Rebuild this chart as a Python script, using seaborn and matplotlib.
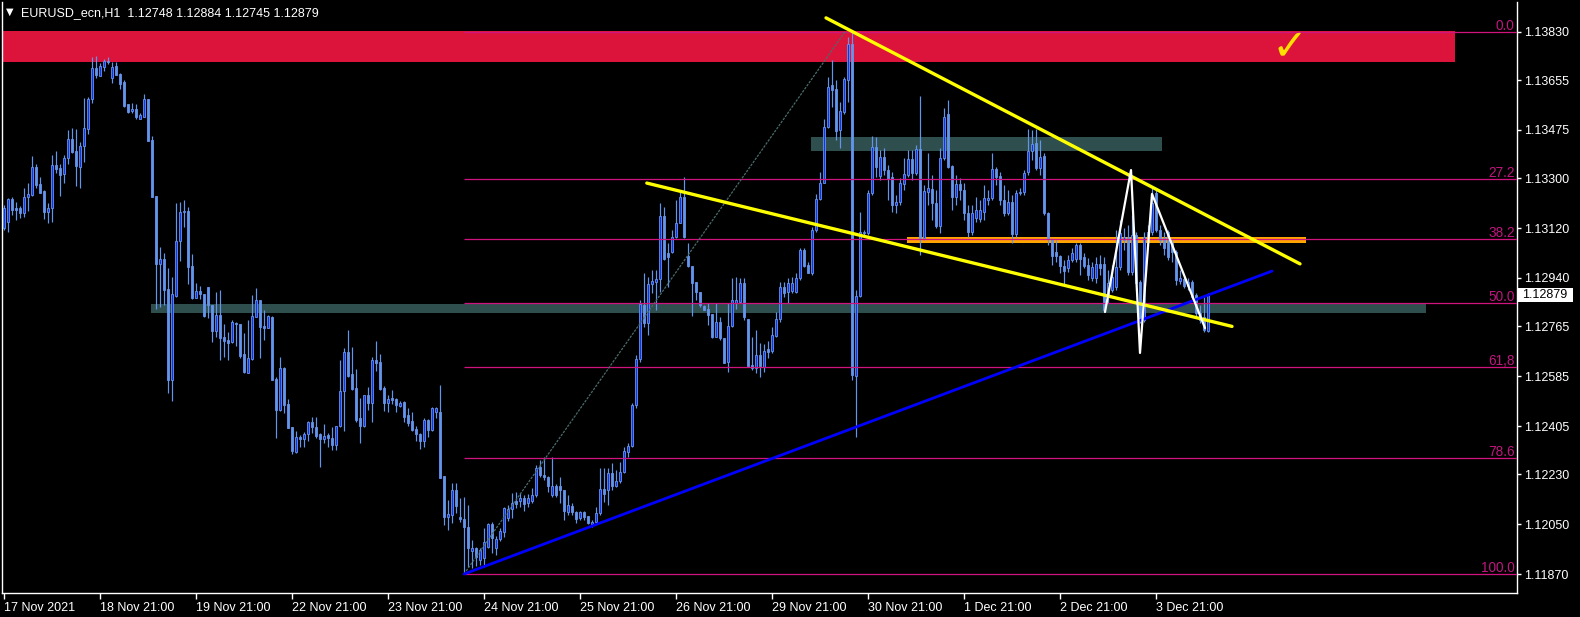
import matplotlib
matplotlib.use("Agg")
import matplotlib.pyplot as plt
from matplotlib.patches import Rectangle
from matplotlib.transforms import blended_transform_factory, ScaledTranslation
import numpy as np
import pandas as pd
import seaborn as sns

# ---------------- data (EURUSD H1) ----------------
opens = [
 1.13121, 1.13143, 1.13226, 1.13193, 1.13193, 1.13175, 1.13233, 1.13240, 1.13341, 1.13280,
 1.13255, 1.13179, 1.13193, 1.13349, 1.13338, 1.13316, 1.13374, 1.13443, 1.13399, 1.13341,
 1.13417, 1.13479, 1.13587, 1.13699, 1.13670, 1.13703, 1.13725, 1.13663, 1.13706, 1.13678,
 1.13649, 1.13569, 1.13544, 1.13551, 1.13515, 1.13522, 1.13587, 1.13439, 1.13237, 1.12991,
 1.13009, 1.12901, 1.12572, 1.12875, 1.13074, 1.13179, 1.13182, 1.12984, 1.12868, 1.12893,
 1.12882, 1.12908, 1.12843, 1.12749, 1.12807, 1.12727, 1.12716, 1.12709, 1.12778, 1.12774,
 1.12666, 1.12597, 1.12648, 1.12799, 1.12861, 1.12767, 1.12760, 1.12799, 1.12575, 1.12463,
 1.12615, 1.12485, 1.12402, 1.12311, 1.12366, 1.12358, 1.12377, 1.12420, 1.12402, 1.12377,
 1.12358, 1.12373, 1.12362, 1.12337, 1.12405, 1.12532, 1.12673, 1.12593, 1.12543, 1.12434,
 1.12405, 1.12517, 1.12489, 1.12644, 1.12637, 1.12543, 1.12489, 1.12507, 1.12503, 1.12478,
 1.12492, 1.12445, 1.12424, 1.12395, 1.12377, 1.12351, 1.12427, 1.12391, 1.12456, 1.12456,
 1.12225, 1.12077, 1.12084, 1.12174, 1.12077, 1.12069, 1.12040, 1.11954, 1.11965, 1.11921,
 1.11928, 1.11968, 1.12051, 1.11965, 1.11997, 1.12022, 1.12073, 1.12105, 1.12134, 1.12134,
 1.12145, 1.12127, 1.12134, 1.12156, 1.12257, 1.12228, 1.12221, 1.12156, 1.12189, 1.12189,
 1.12174, 1.12095, 1.12116, 1.12095, 1.12073, 1.12095, 1.12080, 1.12051, 1.12058, 1.12091,
 1.12178, 1.12174, 1.12236, 1.12189, 1.12207, 1.12239, 1.12311, 1.12333, 1.12481, 1.12648,
 1.12843, 1.12778, 1.12919, 1.12926, 1.12937, 1.13164, 1.13031, 1.13034, 1.13088, 1.13139,
 1.13233, 1.13020, 1.12984, 1.12926, 1.12890, 1.12839, 1.12828, 1.12810, 1.12727, 1.12781,
 1.12723, 1.12637, 1.12767, 1.12850, 1.12854, 1.12922, 1.12792, 1.12626, 1.12615, 1.12662,
 1.12619, 1.12684, 1.12677, 1.12731, 1.12792, 1.12908, 1.12890, 1.12893, 1.12890, 1.12940,
 1.13042, 1.12987, 1.12958, 1.13114, 1.13226, 1.13284, 1.13486, 1.13638, 1.13623, 1.13475,
 1.13540, 1.13656, 1.13786, 1.12586, 1.12875, 1.13103, 1.13103, 1.13247, 1.13414, 1.13309,
 1.13378, 1.13331, 1.13305, 1.13204, 1.13215, 1.13280, 1.13313, 1.13370, 1.13320, 1.13407,
 1.13085, 1.13251, 1.13262, 1.13211, 1.13128, 1.13374, 1.13533, 1.13345, 1.13233, 1.13280,
 1.13258, 1.13175, 1.13107, 1.13157, 1.13153, 1.13179, 1.13222, 1.13229, 1.13334, 1.13309,
 1.13222, 1.13175, 1.13215, 1.13099, 1.13247, 1.13251, 1.13323, 1.13399, 1.13428, 1.13338,
 1.13381, 1.13175, 1.13081, 1.13034, 1.13020, 1.12984, 1.12976, 1.13005, 1.13009, 1.13060,
 1.13016, 1.12987, 1.12940, 1.12940, 1.12991, 1.12991, 1.12872, 1.12897, 1.12908, 1.12980,
 1.13078, 1.13088, 1.12962, 1.13096, 1.12926, 1.12788, 1.13088, 1.13107, 1.13247, 1.13114,
 1.13085, 1.13107, 1.13067, 1.13034, 1.12930, 1.12937, 1.12911, 1.12926, 1.12879, 1.12814,
 1.12799, 1.12748]

highs = [
 1.13204, 1.13229, 1.13233, 1.13215, 1.13200, 1.13266, 1.13284, 1.13381, 1.13352, 1.13305,
 1.13258, 1.13211, 1.13385, 1.13399, 1.13352, 1.13385, 1.13475, 1.13482, 1.13479, 1.13432,
 1.13591, 1.13594, 1.13739, 1.13743, 1.13717, 1.13732, 1.13739, 1.13721, 1.13721, 1.13681,
 1.13656, 1.13569, 1.13573, 1.13569, 1.13537, 1.13605, 1.13587, 1.13454, 1.13237, 1.13052,
 1.13031, 1.12976, 1.12944, 1.13211, 1.13215, 1.13222, 1.13197, 1.13027, 1.12922, 1.12911,
 1.12882, 1.12908, 1.12843, 1.12890, 1.12897, 1.12774, 1.12745, 1.12788, 1.12781, 1.12774,
 1.12742, 1.12788, 1.12879, 1.12904, 1.12861, 1.12825, 1.12807, 1.12803, 1.12583, 1.12655,
 1.12619, 1.12503, 1.12402, 1.12387, 1.12373, 1.12384, 1.12424, 1.12438, 1.12438, 1.12380,
 1.12413, 1.12380, 1.12402, 1.12405, 1.12644, 1.12687, 1.12752, 1.12691, 1.12611, 1.12507,
 1.12517, 1.12546, 1.12655, 1.12713, 1.12666, 1.12550, 1.12517, 1.12536, 1.12507, 1.12496,
 1.12496, 1.12471, 1.12456, 1.12405, 1.12380, 1.12434, 1.12431, 1.12474, 1.12474, 1.12554,
 1.12225, 1.12138, 1.12199, 1.12199, 1.12145, 1.12149, 1.12120, 1.11993, 1.11968, 1.11965,
 1.12037, 1.12055, 1.12058, 1.12008, 1.12037, 1.12113, 1.12120, 1.12163, 1.12167, 1.12163,
 1.12156, 1.12160, 1.12181, 1.12265, 1.12283, 1.12293, 1.12225, 1.12293, 1.12196, 1.12221,
 1.12174, 1.12156, 1.12127, 1.12098, 1.12098, 1.12098, 1.12080, 1.12066, 1.12113, 1.12254,
 1.12254, 1.12254, 1.12272, 1.12246, 1.12275, 1.12330, 1.12344, 1.12489, 1.12662, 1.12861,
 1.12958, 1.12944, 1.12969, 1.12969, 1.13211, 1.13197, 1.13067, 1.13114, 1.13222, 1.13258,
 1.13305, 1.13067, 1.12984, 1.12926, 1.12890, 1.12843, 1.12850, 1.12810, 1.12850, 1.12799,
 1.12723, 1.12850, 1.12940, 1.12944, 1.12940, 1.12940, 1.12792, 1.12727, 1.12752, 1.12705,
 1.12702, 1.12713, 1.12763, 1.12817, 1.12926, 1.12926, 1.12940, 1.12944, 1.12958, 1.13049,
 1.13049, 1.12998, 1.13125, 1.13244, 1.13323, 1.13515, 1.13667, 1.13728, 1.13656, 1.13576,
 1.13667, 1.13811, 1.13830, 1.12897, 1.13179, 1.13114, 1.13258, 1.13454, 1.13450, 1.13403,
 1.13410, 1.13349, 1.13323, 1.13240, 1.13302, 1.13374, 1.13403, 1.13403, 1.13421, 1.13598,
 1.13276, 1.13392, 1.13313, 1.13258, 1.13410, 1.13555, 1.13584, 1.13349, 1.13313, 1.13302,
 1.13284, 1.13204, 1.13204, 1.13233, 1.13222, 1.13276, 1.13258, 1.13392, 1.13341, 1.13323,
 1.13276, 1.13258, 1.13240, 1.13258, 1.13266, 1.13331, 1.13479, 1.13475, 1.13479, 1.13439,
 1.13392, 1.13179, 1.13085, 1.13078, 1.13023, 1.13005, 1.13023, 1.13049, 1.13067, 1.13067,
 1.13031, 1.13013, 1.12998, 1.13016, 1.13023, 1.13016, 1.12969, 1.12987, 1.13114, 1.13150,
 1.13121, 1.13132, 1.13168, 1.13107, 1.12933, 1.13107, 1.13132, 1.13266, 1.13266, 1.13132,
 1.13107, 1.13114, 1.13078, 1.13042, 1.12969, 1.12948, 1.12940, 1.12933, 1.12886, 1.12843,
 1.12879, 1.12884]

lows = [
 1.13114, 1.13107, 1.13168, 1.13150, 1.13157, 1.13161, 1.13182, 1.13237, 1.13266, 1.13247,
 1.13153, 1.13139, 1.13143, 1.13320, 1.13237, 1.13284, 1.13352, 1.13392, 1.13273, 1.13266,
 1.13360, 1.13461, 1.13573, 1.13663, 1.13670, 1.13688, 1.13714, 1.13645, 1.13674, 1.13623,
 1.13558, 1.13537, 1.13537, 1.13515, 1.13515, 1.13522, 1.13435, 1.13233, 1.12828, 1.12835,
 1.12843, 1.12525, 1.12496, 1.12872, 1.13002, 1.13125, 1.12919, 1.12864, 1.12868, 1.12864,
 1.12799, 1.12796, 1.12709, 1.12727, 1.12644, 1.12655, 1.12644, 1.12705, 1.12695, 1.12651,
 1.12597, 1.12597, 1.12644, 1.12799, 1.12651, 1.12716, 1.12760, 1.12572, 1.12362, 1.12460,
 1.12452, 1.12398, 1.12304, 1.12308, 1.12330, 1.12330, 1.12351, 1.12380, 1.12362, 1.12257,
 1.12344, 1.12330, 1.12319, 1.12319, 1.12402, 1.12387, 1.12583, 1.12536, 1.12420, 1.12344,
 1.12402, 1.12463, 1.12420, 1.12604, 1.12536, 1.12460, 1.12456, 1.12485, 1.12456, 1.12474,
 1.12420, 1.12405, 1.12387, 1.12351, 1.12322, 1.12330, 1.12366, 1.12387, 1.12434, 1.12218,
 1.12048, 1.12030, 1.12055, 1.12091, 1.12058, 1.11870, 1.11896, 1.11892, 1.11899, 1.11903,
 1.11896, 1.11965, 1.11946, 1.11939, 1.11990, 1.12004, 1.12062, 1.12073, 1.12109, 1.12113,
 1.12098, 1.12113, 1.12127, 1.12149, 1.12221, 1.12210, 1.12167, 1.12149, 1.12149, 1.12127,
 1.12066, 1.12084, 1.12084, 1.12055, 1.12066, 1.12066, 1.12051, 1.12040, 1.12051, 1.12084,
 1.12131, 1.12120, 1.12174, 1.12185, 1.12199, 1.12236, 1.12293, 1.12330, 1.12471, 1.12637,
 1.12763, 1.12734, 1.12886, 1.12825, 1.12890, 1.13005, 1.12908, 1.13031, 1.13085, 1.13139,
 1.13085, 1.12980, 1.12803, 1.12861, 1.12835, 1.12825, 1.12770, 1.12723, 1.12727, 1.12716,
 1.12633, 1.12601, 1.12763, 1.12828, 1.12850, 1.12788, 1.12619, 1.12608, 1.12597, 1.12583,
 1.12601, 1.12651, 1.12669, 1.12727, 1.12781, 1.12872, 1.12850, 1.12886, 1.12886, 1.12933,
 1.12980, 1.12958, 1.12951, 1.13107, 1.13222, 1.13284, 1.13482, 1.13558, 1.13439, 1.13410,
 1.13533, 1.13576, 1.12572, 1.12366, 1.12872, 1.13096, 1.13096, 1.13240, 1.13305, 1.13295,
 1.13313, 1.13222, 1.13179, 1.13175, 1.13204, 1.13258, 1.13305, 1.13295, 1.13313, 1.13023,
 1.13078, 1.13204, 1.13150, 1.13121, 1.13103, 1.13367, 1.13338, 1.13186, 1.13204, 1.13222,
 1.13150, 1.13088, 1.13096, 1.13143, 1.13143, 1.13150, 1.13204, 1.13222, 1.13276, 1.13204,
 1.13164, 1.13168, 1.13067, 1.13088, 1.13240, 1.13240, 1.13313, 1.13367, 1.13331, 1.13313,
 1.13168, 1.13060, 1.12987, 1.12998, 1.12958, 1.12915, 1.12962, 1.12998, 1.12998, 1.12951,
 1.12976, 1.12933, 1.12930, 1.12922, 1.12951, 1.12817, 1.12850, 1.12890, 1.12897, 1.12969,
 1.13042, 1.12951, 1.12951, 1.12897, 1.12778, 1.12781, 1.13078, 1.13096, 1.13107, 1.13060,
 1.13023, 1.13005, 1.12998, 1.12915, 1.12919, 1.12904, 1.12897, 1.12861, 1.12796, 1.12778,
 1.12745, 1.12745]

closes = [
 1.13193, 1.13226, 1.13186, 1.13186, 1.13175, 1.13233, 1.13244, 1.13341, 1.13276, 1.13247,
 1.13179, 1.13193, 1.13349, 1.13334, 1.13313, 1.13374, 1.13443, 1.13396, 1.13345, 1.13417,
 1.13482, 1.13587, 1.13699, 1.13674, 1.13706, 1.13725, 1.13721, 1.13703, 1.13674, 1.13641,
 1.13562, 1.13540, 1.13551, 1.13522, 1.13529, 1.13587, 1.13435, 1.13233, 1.12991, 1.13009,
 1.12897, 1.12572, 1.12882, 1.13074, 1.13179, 1.13182, 1.12980, 1.12868, 1.12893, 1.12882,
 1.12803, 1.12843, 1.12749, 1.12807, 1.12723, 1.12713, 1.12705, 1.12781, 1.12774, 1.12658,
 1.12601, 1.12651, 1.12803, 1.12861, 1.12763, 1.12760, 1.12803, 1.12572, 1.12463, 1.12615,
 1.12481, 1.12398, 1.12315, 1.12366, 1.12358, 1.12377, 1.12420, 1.12402, 1.12369, 1.12358,
 1.12369, 1.12362, 1.12337, 1.12405, 1.12532, 1.12673, 1.12586, 1.12539, 1.12427, 1.12405,
 1.12517, 1.12489, 1.12644, 1.12633, 1.12539, 1.12489, 1.12503, 1.12499, 1.12481, 1.12489,
 1.12438, 1.12416, 1.12391, 1.12377, 1.12351, 1.12427, 1.12391, 1.12471, 1.12471, 1.12218,
 1.12077, 1.12087, 1.12174, 1.12116, 1.12069, 1.12040, 1.11965, 1.11965, 1.11932, 1.11957,
 1.11986, 1.12051, 1.12001, 1.11997, 1.12026, 1.12109, 1.12105, 1.12127, 1.12124, 1.12145,
 1.12124, 1.12145, 1.12156, 1.12254, 1.12228, 1.12221, 1.12189, 1.12189, 1.12156, 1.12174,
 1.12098, 1.12120, 1.12095, 1.12069, 1.12095, 1.12077, 1.12055, 1.12058, 1.12091, 1.12178,
 1.12160, 1.12236, 1.12189, 1.12207, 1.12239, 1.12315, 1.12333, 1.12481, 1.12648, 1.12846,
 1.12778, 1.12919, 1.12930, 1.12937, 1.13164, 1.13009, 1.13016, 1.13088, 1.13139, 1.13233,
 1.13088, 1.12984, 1.12922, 1.12890, 1.12843, 1.12825, 1.12807, 1.12727, 1.12781, 1.12723,
 1.12633, 1.12767, 1.12861, 1.12861, 1.12922, 1.12799, 1.12622, 1.12615, 1.12662, 1.12622,
 1.12677, 1.12673, 1.12734, 1.12792, 1.12908, 1.12886, 1.12922, 1.12922, 1.12940, 1.13042,
 1.12984, 1.12958, 1.13114, 1.13226, 1.13284, 1.13486, 1.13631, 1.13620, 1.13472, 1.13544,
 1.13660, 1.13786, 1.12590, 1.12875, 1.13107, 1.13107, 1.13247, 1.13414, 1.13341, 1.13378,
 1.13331, 1.13298, 1.13204, 1.13215, 1.13284, 1.13316, 1.13370, 1.13320, 1.13407, 1.13085,
 1.13255, 1.13266, 1.13211, 1.13128, 1.13374, 1.13522, 1.13341, 1.13233, 1.13280, 1.13258,
 1.13175, 1.13107, 1.13175, 1.13186, 1.13186, 1.13229, 1.13229, 1.13334, 1.13305, 1.13222,
 1.13175, 1.13215, 1.13099, 1.13247, 1.13251, 1.13320, 1.13399, 1.13425, 1.13338, 1.13378,
 1.13175, 1.13081, 1.13020, 1.13020, 1.12984, 1.12966, 1.13005, 1.13031, 1.13060, 1.13009,
 1.12984, 1.12951, 1.12980, 1.12991, 1.12976, 1.12825, 1.12922, 1.12944, 1.12980, 1.13103,
 1.13088, 1.12962, 1.13096, 1.12922, 1.12788, 1.13088, 1.13107, 1.13211, 1.13114, 1.13078,
 1.13049, 1.13016, 1.13034, 1.12933, 1.12940, 1.12911, 1.12926, 1.12872, 1.12814, 1.12788,
 1.12752, 1.12879]

date_labels = ["17 Nov 2021", "18 Nov 21:00", "19 Nov 21:00", "22 Nov 21:00",
               "23 Nov 21:00", "24 Nov 21:00", "25 Nov 21:00", "26 Nov 21:00",
               "29 Nov 21:00", "30 Nov 21:00", "1 Dec 21:00", "2 Dec 21:00",
               "3 Dec 21:00"]
label_bars = [0, 24, 48, 72, 96, 120, 144, 168, 192, 216, 240, 264, 288]
price_ticks = [1.13830, 1.13655, 1.13475, 1.13300, 1.13120, 1.12940,
               1.12765, 1.12585, 1.12405, 1.12230, 1.12050, 1.11870]

title_text = "EURUSD_ecn,H1  1.12748 1.12884 1.12745 1.12879"
last_price = 1.12879

# Fibonacci retracement
fib_high = 1.13830
fib_low = 1.11870
fib_levels = [0.0, 27.2, 38.2, 50.0, 61.8, 78.6, 100.0]
fib_texts = ["0.0", "27.2", "38.2", "50.0", "61,8", "78.6", "100.0"]
fib_anchor_bars = [115, 210.25]
fib_anchor_prices = [1.11870, 1.13830]

# drawn objects (bar index, price)
blue_bars, blue_prices = [115, 317], [1.11870, 1.12965]
yel_up_bars, yel_up_prices = [205.5, 324], [1.13880, 1.12991]
yel_lo_bars, yel_lo_prices = [160.7, 307], [1.13283, 1.12765]
w_bars = [275.25, 281.75, 284, 287, 300.25]
w_prices = [1.12817, 1.13330, 1.12669, 1.13244, 1.12759]

# zones: (bar start, bar end, price low, price high)
red_zone = (-2, 362.75, 1.13721, 1.13833)
grey_upper = (201.75, 289.5, 1.13399, 1.13450)
grey_lower = (36.75, 355.5, 1.12813, 1.12846)
orange_zone = (225.75, 325.5, 1.13066, 1.13088)
check_pos = (321.5, 1.13774)

# ---------------- style ----------------
sns.set_style("dark", {"axes.facecolor": "black", "figure.facecolor": "black",
                       "axes.edgecolor": "white", "text.color": "white",
                       "xtick.color": "white", "ytick.color": "white",
                       "axes.grid": False})
plt.rcParams["font.family"] = ["Liberation Sans", "DejaVu Sans"]

W, H = 1580, 617
fig = plt.figure(figsize=(W / 100, H / 100), dpi=100, facecolor="black")
ax = fig.add_axes([2 / W, 24 / H, 1515 / W, 591 / H])
ax.set_facecolor("black")
ax.set_xlim(-0.5, 378.25)
ax.set_ylim(1.118015, 1.139374)

# zones (background)
for (x0, x1, p0, p1), col in [(red_zone, "#DC143C"), (grey_upper, "#2F4F4F"),
                              (grey_lower, "#2F4F4F"), (orange_zone, "#FFA500")]:
    ax.add_patch(Rectangle((x0, p0), x1 - x0, p1 - p0, facecolor=col,
                           edgecolor="none", zorder=1))

# candles
df = pd.DataFrame({"open": opens, "high": highs, "low": lows, "close": closes})
df["bar"] = np.arange(len(df))
bull = df["close"] >= df["open"]
ax.vlines(df["bar"], df["low"], df["high"], colors="#6495ED", linewidth=0.85, zorder=3)
bottom = np.minimum(df["open"], df["close"])
height = np.maximum((df["close"] - df["open"]).abs(), 0.00003)
ax.bar(df["bar"], height, bottom=bottom, width=0.72,
       color=np.where(bull, "#1432E6", "#6495ED"), edgecolor="#6495ED",
       linewidth=0.6, zorder=3)

# fibonacci
fib_prices = [fib_high - lv / 100 * (fib_high - fib_low) for lv in fib_levels]
ax.hlines(fib_prices, fib_anchor_bars[0], 400, colors="#D0147F", linewidth=0.9, zorder=4)
sns.lineplot(x=fib_anchor_bars, y=fib_anchor_prices, ax=ax, color="#4A6B6B",
             linewidth=0.9, linestyle=(0, (2, 1)), zorder=4)
trans = blended_transform_factory(ax.transAxes, ax.transData) + \
    ScaledTranslation(0, 2 / 100, fig.dpi_scale_trans)
for p, t in zip(fib_prices, fib_texts):
    ax.text(0.9985, p, t, transform=trans, ha="right", va="baseline",
            color="#C0157F", fontsize=9.8, zorder=6)

# trend lines
sns.lineplot(x=blue_bars, y=blue_prices, ax=ax, color="#0000FF", linewidth=2.0, zorder=5)
sns.lineplot(x=yel_up_bars, y=yel_up_prices, ax=ax, color="#FFFF00", linewidth=2.4, zorder=5)
sns.lineplot(x=yel_lo_bars, y=yel_lo_prices, ax=ax, color="#FFFF00", linewidth=2.4, zorder=5)
sns.lineplot(x=w_bars, y=w_prices, ax=ax, color="white", linewidth=1.6, sort=False,
             estimator=None, zorder=6)

ax.text(check_pos[0], check_pos[1], "\u2713", color="#FFE000", fontsize=31,
        ha="center", va="center", family=["DejaVu Sans"], zorder=6)

# axes
for s in ["left", "right", "bottom"]:
    ax.spines[s].set_color("white")
    ax.spines[s].set_linewidth(1)
ax.spines["top"].set_visible(False)
ax.yaxis.tick_right()
ax.set_yticks(price_ticks)
ax.set_yticklabels([f"{p:.5f}" for p in price_ticks])
ax.tick_params(axis="y", right=True, left=False, length=3, width=1, pad=2,
               labelsize=9, colors="white")
ax.set_xticks(label_bars)
ax.set_xticklabels(date_labels, ha="left")
ax.tick_params(axis="x", bottom=True, length=4, width=1, pad=2.5,
               labelsize=9, colors="white")
ax.set_xlabel("")
ax.set_ylabel("")

# current price tag
btrans = blended_transform_factory(fig.transFigure, ax.transData)
ax.add_patch(Rectangle((1518 / W, last_price - 0.000253), 55 / W, 0.000506,
                       transform=btrans, facecolor="white", edgecolor="none",
                       clip_on=False, zorder=7))
ax.text(1522 / W, last_price, f"{last_price:.5f}", transform=btrans, color="black",
        fontsize=9, va="center", ha="left", clip_on=False, zorder=8)

# title
fig.text(6 / W, 1 - 15 / H, "\u25BC", color="white", fontsize=7,
         family=["DejaVu Sans"], va="baseline")
fig.text(21 / W, 1 - 16 / H, title_text, color="white", fontsize=9, va="baseline")

fig.savefig("out.png", dpi=100, facecolor="black")
